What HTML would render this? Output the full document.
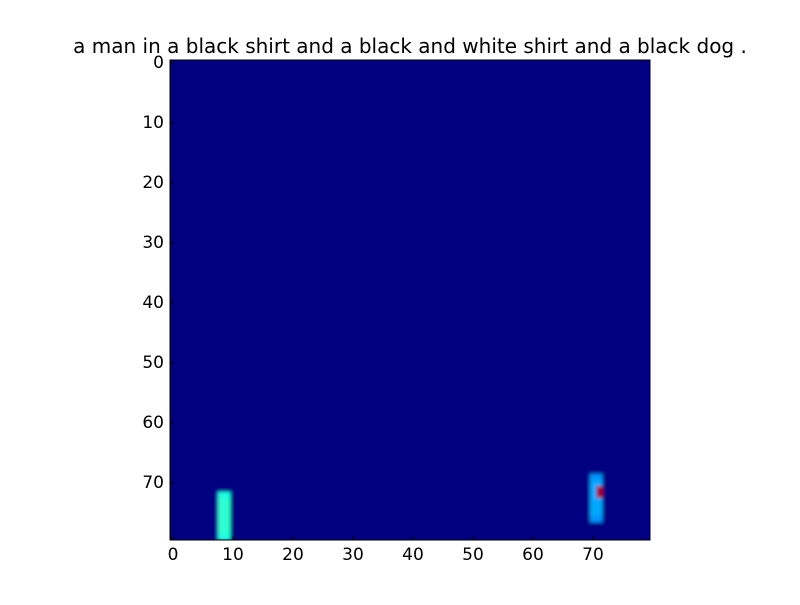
<!DOCTYPE html>
<html><head><meta charset="utf-8"><style>
body{margin:0;background:#fff;}
svg text{font-family:"DejaVu Sans","Liberation Sans",sans-serif;}
</style></head><body>
<svg id="c" width="800" height="600">
<rect width="800" height="600" fill="#fff"/>
<text x="410" y="53" font-size="20" text-anchor="middle">a man in a black shirt and a black and white shirt and a black dog .</text>
<defs><filter id="bl" x="-5%" y="-5%" width="110%" height="110%"><feGaussianBlur stdDeviation="1.8"/></filter>
<clipPath id="cp"><rect x="170" y="60" width="480" height="480"/></clipPath></defs>
<g clip-path="url(#cp)"><g id="cells" filter="url(#bl)"></g></g>
<g id="axes"></g>
</svg>
<script>
const gridSize = 80;
const cellRows = [72,73,74,75,76,77,78,79, 72,73,74,75,76,77,78,79, 69,70,71,72,73,74,75,76, 69,70,71,72,73,74,75,76];
const cellCols = [8,8,8,8,8,8,8,8, 9,9,9,9,9,9,9,9, 70,70,70,70,70,70,70,70, 71,71,71,71,71,71,71,71];
const cellVals = [0.4,0.42,0.42,0.42,0.42,0.42,0.42,0.4, 0.4,0.42,0.42,0.42,0.42,0.42,0.42,0.4, 0.27,0.29,0.29,0.29,0.29,0.29,0.29,0.27, 0.27,0.29,0.95,0.95,0.29,0.29,0.29,0.27];
const xTicks = [0,10,20,30,40,50,60,70];
const yTicks = [0,10,20,30,40,50,60,70];
const L=170,T=60,S=480;
function sx(v){return L+(v+0.5)*S/gridSize;}
function sy(v){return T+(v+0.5)*S/gridSize;}
function jet(v){
  const r=Math.min(Math.max(Math.min(4*v-1.5,-4*v+4.5),0),1);
  const g=Math.min(Math.max(Math.min(4*v-0.5,-4*v+3.5),0),1);
  const b=Math.min(Math.max(Math.min(4*v+0.5,-4*v+2.5),0),1);
  return `rgb(${Math.round(r*255)},${Math.round(g*255)},${Math.round(b*255)})`;
}
const NS="http://www.w3.org/2000/svg";
const cells=document.getElementById('cells');
const bg=document.createElementNS(NS,'rect');
bg.setAttribute('x',L-10);bg.setAttribute('y',T-10);bg.setAttribute('width',S+20);bg.setAttribute('height',S+20);bg.setAttribute('fill',jet(0));


cells.appendChild(bg);
const cw=S/gridSize;
for(let i=0;i<cellVals.length;i++){
  const r=document.createElementNS(NS,'rect');
  r.setAttribute('x',sx(cellCols[i])-cw/2);r.setAttribute('y',sy(cellRows[i])-cw/2);
  r.setAttribute('width',cw+0.3);r.setAttribute('height',cw+0.3);r.setAttribute('fill',jet(cellVals[i]));
  
  
  cells.appendChild(r);
}
const ax=document.getElementById('axes');
ax.innerHTML=`<rect x="${L}" y="${T}" width="${S}" height="${S}" fill="none" stroke="#000" stroke-width="1"/>`;


xTicks.forEach(t=>{
  const x=sx(t);
  const l1=document.createElementNS(NS,'line');l1.setAttribute('x1',x);l1.setAttribute('x2',x);l1.setAttribute('y1',T+S);l1.setAttribute('y2',T+S-4);l1.setAttribute('stroke','#000');
  
  
  ax.appendChild(l1);
  const tx=document.createElementNS(NS,'text');tx.setAttribute('x',x);tx.setAttribute('y',T+S+20);tx.setAttribute('font-size','17');tx.setAttribute('text-anchor','middle');tx.textContent=t;
  
  
  ax.appendChild(tx);
});
yTicks.forEach(t=>{
  const y=sy(t);
  const l1=document.createElementNS(NS,'line');l1.setAttribute('x1',L);l1.setAttribute('x2',L+4);l1.setAttribute('y1',y);l1.setAttribute('y2',y);l1.setAttribute('stroke','#000');
  
  
  ax.appendChild(l1);
  const tx=document.createElementNS(NS,'text');tx.setAttribute('x',L-6);tx.setAttribute('y',y+5);tx.setAttribute('font-size','17');tx.setAttribute('text-anchor','end');tx.textContent=t;
  
  
  ax.appendChild(tx);
});
</script>
</body></html>
